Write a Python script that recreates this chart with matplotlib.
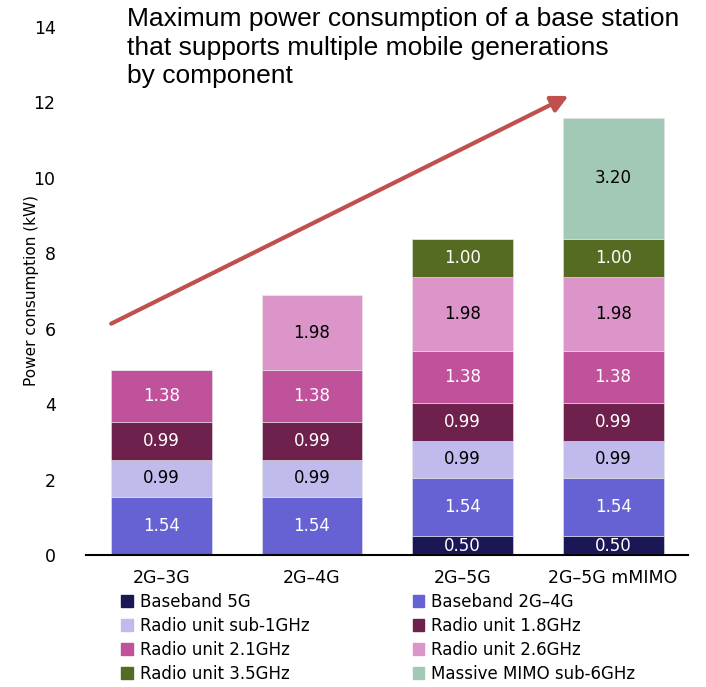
import numpy as np
import matplotlib.pyplot as plt
from matplotlib.patches import Rectangle

plt.rcParams['font.family'] = ['DejaVu Sans']

configs = ['2G\u20133G', '2G\u20134G', '2G\u20135G', '2G\u20135G mMIMO']
components = ['Baseband 5G', 'Baseband 2G\u20134G', 'Radio unit sub-1GHz',
              'Radio unit 1.8GHz', 'Radio unit 2.1GHz', 'Radio unit 2.6GHz',
              'Radio unit 3.5GHz', 'Massive MIMO sub-6GHz']
baseband_5g = [0, 0, 0.50, 0.50]
baseband_2g4g = [1.54, 1.54, 1.54, 1.54]
ru_sub1 = [0.99, 0.99, 0.99, 0.99]
ru_18 = [0.99, 0.99, 0.99, 0.99]
ru_21 = [1.38, 1.38, 1.38, 1.38]
ru_26 = [0, 1.98, 1.98, 1.98]
ru_35 = [0, 0, 1.00, 1.00]
mmimo = [0, 0, 0, 3.20]
series = [baseband_5g, baseband_2g4g, ru_sub1, ru_18, ru_21, ru_26, ru_35, mmimo]

colors = ['#1B1656', '#6762D3', '#BFBBEC', '#6E214C', '#C0529C', '#DB95C8',
          '#556B22', '#A1C9B5']
text_colors = ['white', 'white', 'black', 'white', 'white', 'black', 'white', 'black']

fig = plt.figure(figsize=(7.06, 6.87), dpi=100)
ax = fig.add_axes([0.122, 0.192, 0.853, 0.769])

x = np.arange(len(configs))
bottom = np.zeros(len(configs))
for vals, col, tcol in zip(series, colors, text_colors):
    vals = np.array(vals)
    ax.bar(x, vals, 0.67, bottom=bottom, color=col, edgecolor='#e6e6e6', linewidth=0.4)
    for xi, v, b in zip(x, vals, bottom):
        if v > 0:
            ax.text(xi, b + v / 2, f'{v:.2f}', ha='center', va='center',
                    color=tcol, fontsize=12)
    bottom += vals

ax.set_xlim(-0.5, 3.5)
ax.set_ylim(0, 14)
ax.set_yticks(np.arange(0, 15, 2))
ax.set_xticks(x)
ax.set_xticklabels(configs, fontsize=12.5)
ax.tick_params(axis='y', length=0, labelsize=12.5, pad=22)
ax.tick_params(axis='x', length=0, labelsize=12.5, pad=10)
for s in ['top', 'right', 'left']:
    ax.spines[s].set_visible(False)
ax.spines['bottom'].set_linewidth(1.5)
ax.set_ylabel('Power consumption (kW)', fontsize=11, labelpad=-4)

# trend arrow
ax.annotate('', xy=(2.72, 12.2), xytext=(-0.35, 6.1),
            arrowprops=dict(arrowstyle='-|>,head_length=1.0,head_width=0.5',
                            color='#C0504D', lw=3))

fig.text(0.18, 0.99, 'Maximum power consumption of a base station\n'
         'that supports multiple mobile generations\nby component',
         ha='left', va='top', fontsize=19, family='Liberation Sans',
         linespacing=1.25)

# legend, filled row by row
order = [0, 2, 4, 6, 1, 3, 5, 7]
handles = [Rectangle((0, 0), 1, 1, color=colors[i]) for i in order]
labels = [components[i] for i in order]
fig.legend(handles, labels, ncol=2, loc='upper left', bbox_to_anchor=(0.172, 0.137),
           frameon=False, fontsize=12, handlelength=0.7, handleheight=0.7,
           handletextpad=0.4, columnspacing=6.2, labelspacing=0.36,
           borderpad=0, borderaxespad=0)

fig.savefig('out.png', dpi=100)
